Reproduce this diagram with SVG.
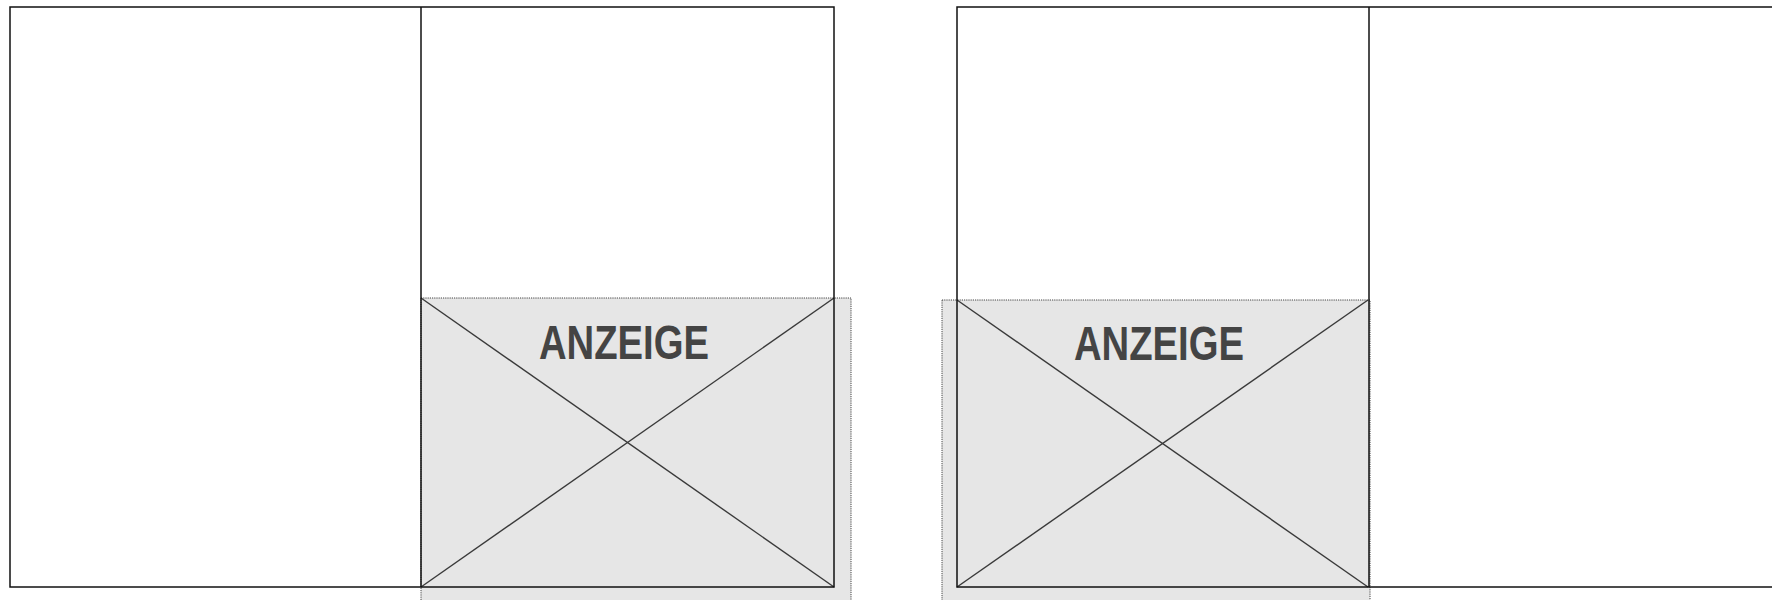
<svg xmlns="http://www.w3.org/2000/svg" width="1772" height="600" viewBox="0 0 1772 600">
<style>
.frame{fill:none;stroke:#111;stroke-width:1.5}
.ad{fill:#e6e6e6;stroke:#444;stroke-width:1;stroke-dasharray:1.2 1}
.diag{stroke:#3a3a3a;stroke-width:1.4;fill:none}
.lbl{font-family:"Liberation Sans Narrow","Liberation Sans",Arial,sans-serif;font-weight:bold;font-size:48px;fill:#444;text-anchor:middle}
</style>
<rect width="1772" height="600" fill="#fff"/>
<g id="left-ad">
<rect class="ad" x="421" y="298" width="430" height="304"/>
<line class="diag" x1="421" y1="298" x2="834" y2="587"/>
<line class="diag" x1="421" y1="587" x2="834" y2="298"/>
<text class="lbl" x="624" y="359" textLength="170" lengthAdjust="spacingAndGlyphs">ANZEIGE</text>
</g>
<g id="right-ad">
<rect class="ad" x="942" y="300" width="428" height="302"/>
<line class="diag" x1="957" y1="300" x2="1368" y2="587"/>
<line class="diag" x1="957" y1="587" x2="1368" y2="300"/>
<text class="lbl" x="1159" y="360" textLength="170" lengthAdjust="spacingAndGlyphs">ANZEIGE</text>
</g>
<g id="left-spread">
<rect class="frame" x="10" y="7" width="824" height="580"/>
<line class="frame" x1="421" y1="7" x2="421" y2="587"/>
</g>
<g id="right-spread">
<rect class="frame" x="957" y="7" width="830" height="580"/>
<line class="frame" x1="1369" y1="7" x2="1369" y2="587"/>
</g>
</svg>
